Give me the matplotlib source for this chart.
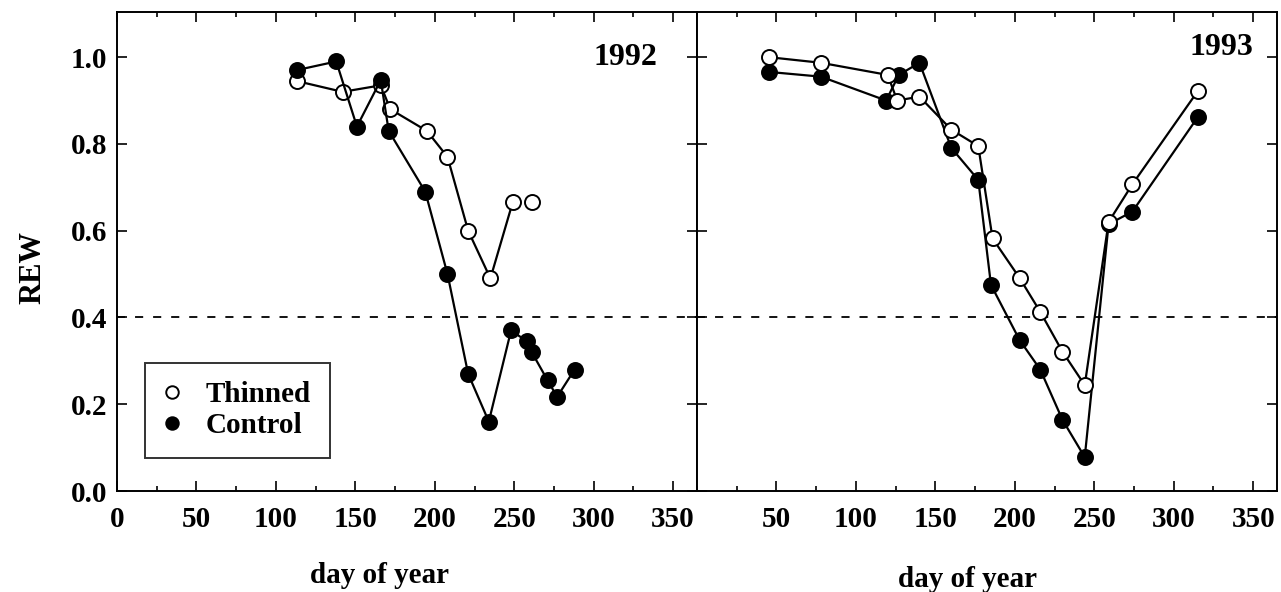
import matplotlib
matplotlib.use("Agg")
import matplotlib.pyplot as plt
from matplotlib.lines import Line2D
from matplotlib.ticker import MultipleLocator

# Relative extractable water (REW) by day of year
doy92_thin = [113, 142, 166, 172, 195, 208, 221, 235, 249, 261]
rew92_thin = [0.945, 0.920, 0.935, 0.880, 0.830, 0.770, 0.600, 0.490, 0.665, 0.665]
doy92_ctrl = [113, 138, 151, 166, 171, 194, 208, 221, 234, 248, 258, 261, 271, 277, 288]
rew92_ctrl = [0.970, 0.990, 0.840, 0.947, 0.830, 0.690, 0.500, 0.270, 0.160,
              0.370, 0.345, 0.320, 0.255, 0.217, 0.280]

doy93_thin = [45, 78, 120, 126, 140, 160, 177, 186, 203, 216, 230, 244, 259, 274, 315]
rew93_thin = [1.000, 0.987, 0.959, 0.900, 0.909, 0.833, 0.795, 0.582, 0.491,
              0.413, 0.321, 0.244, 0.620, 0.707, 0.921]
doy93_ctrl = [45, 78, 119, 127, 140, 160, 177, 185, 203, 216, 230, 244, 259, 274, 315]
rew93_ctrl = [0.966, 0.955, 0.900, 0.959, 0.987, 0.791, 0.717, 0.475, 0.348,
              0.280, 0.164, 0.078, 0.615, 0.644, 0.861]

threshold = 0.4
x_ticks = [0, 50, 100, 150, 200, 250, 300, 350]
y_ticks = [0.0, 0.2, 0.4, 0.6, 0.8, 1.0]

plt.rcParams["font.family"] = ["Liberation Serif", "DejaVu Serif"]
plt.rcParams["font.weight"] = "bold"

fig = plt.figure(figsize=(12.81, 5.92), dpi=100)
ax1 = fig.add_axes([0.0913, 0.1706, 0.4528, 0.8091])
ax2 = fig.add_axes([0.5441, 0.1706, 0.4528, 0.8091])

FS = 21
mk = dict(marker="o", markersize=10.8, markeredgewidth=1.4, markeredgecolor="black",
          color="black", linewidth=1.6)


def style(ax, show_ylabels, first_xlabel):
    ax.set_xlim(0, 365)
    ax.set_ylim(0, 1.104)
    ax.xaxis.set_major_locator(MultipleLocator(50))
    ax.xaxis.set_minor_locator(MultipleLocator(25))
    ax.set_yticks(y_ticks)
    ax.tick_params(which="both", direction="in", top=True, right=True,
                   width=1.2, labelsize=FS)
    ax.tick_params(which="major", length=7)
    ax.tick_params(which="minor", length=3.5)
    ax.tick_params(axis="x", pad=11)
    ax.tick_params(axis="y", pad=7)
    for s in ax.spines.values():
        s.set_linewidth(1.4)
    labels = x_ticks if first_xlabel else x_ticks[1:]
    ax.set_xticks(labels)
    ax.set_xticklabels([str(v) for v in labels], fontweight="bold")
    if show_ylabels:
        ax.set_yticklabels([f"{v:.1f}" for v in y_ticks], fontweight="bold")
    else:
        ax.set_yticklabels([])
    dash = ax.axhline(threshold, color="black", linewidth=1.3)
    dash.set_dashes((4.5, 5.5))


# 1992 panel
style(ax1, True, True)
ax1.plot(doy92_thin[:-1], rew92_thin[:-1], color="black", linewidth=1.6, zorder=2)
ax1.plot(doy92_thin, rew92_thin, linestyle="none", marker="o", markersize=10.8,
         markeredgewidth=1.4, markeredgecolor="black", markerfacecolor="white", zorder=3)
ax1.plot(doy92_ctrl, rew92_ctrl, markerfacecolor="black", zorder=4, **mk)
ax1.text(0.876, 0.906, "1992", transform=ax1.transAxes, ha="center", va="center",
         fontsize=23, fontweight="bold")
ax1.set_xlabel("day of year", fontsize=FS, fontweight="bold")
ax1.xaxis.set_label_coords(0.453, -0.148)
ax1.set_ylabel("REW", fontsize=FS + 1, fontweight="bold")
ax1.yaxis.set_label_coords(-0.119, 0.466)

handles = [
    Line2D([], [], linestyle="none", marker="o", markersize=9, markeredgewidth=1.4,
           markeredgecolor="black", markerfacecolor="white", label="Thinned"),
    Line2D([], [], linestyle="none", marker="o", markersize=9, markeredgewidth=1.4,
           markeredgecolor="black", markerfacecolor="black", label="Control"),
]
leg = ax1.legend(handles=handles, loc="lower left", bbox_to_anchor=(0.048, 0.069),
                 borderaxespad=0, fancybox=False, frameon=True, edgecolor="black",
                 prop={"size": FS, "weight": "bold"}, borderpad=0.64,
                 labelspacing=0.14, handletextpad=0.85, handlelength=0.6)
leg.get_frame().set_linewidth(1.4)

# 1993 panel
style(ax2, False, False)
ax2.plot(doy93_ctrl, rew93_ctrl, markerfacecolor="black", zorder=3, **mk)
ax2.plot(doy93_thin, rew93_thin, markerfacecolor="white", zorder=4, **mk)
ax2.text(0.905, 0.925, "1993", transform=ax2.transAxes, ha="center", va="center",
         fontsize=23, fontweight="bold")
ax2.set_xlabel("day of year", fontsize=FS, fontweight="bold")
ax2.xaxis.set_label_coords(0.466, -0.157)

fig.savefig("out.png", dpi=100)
